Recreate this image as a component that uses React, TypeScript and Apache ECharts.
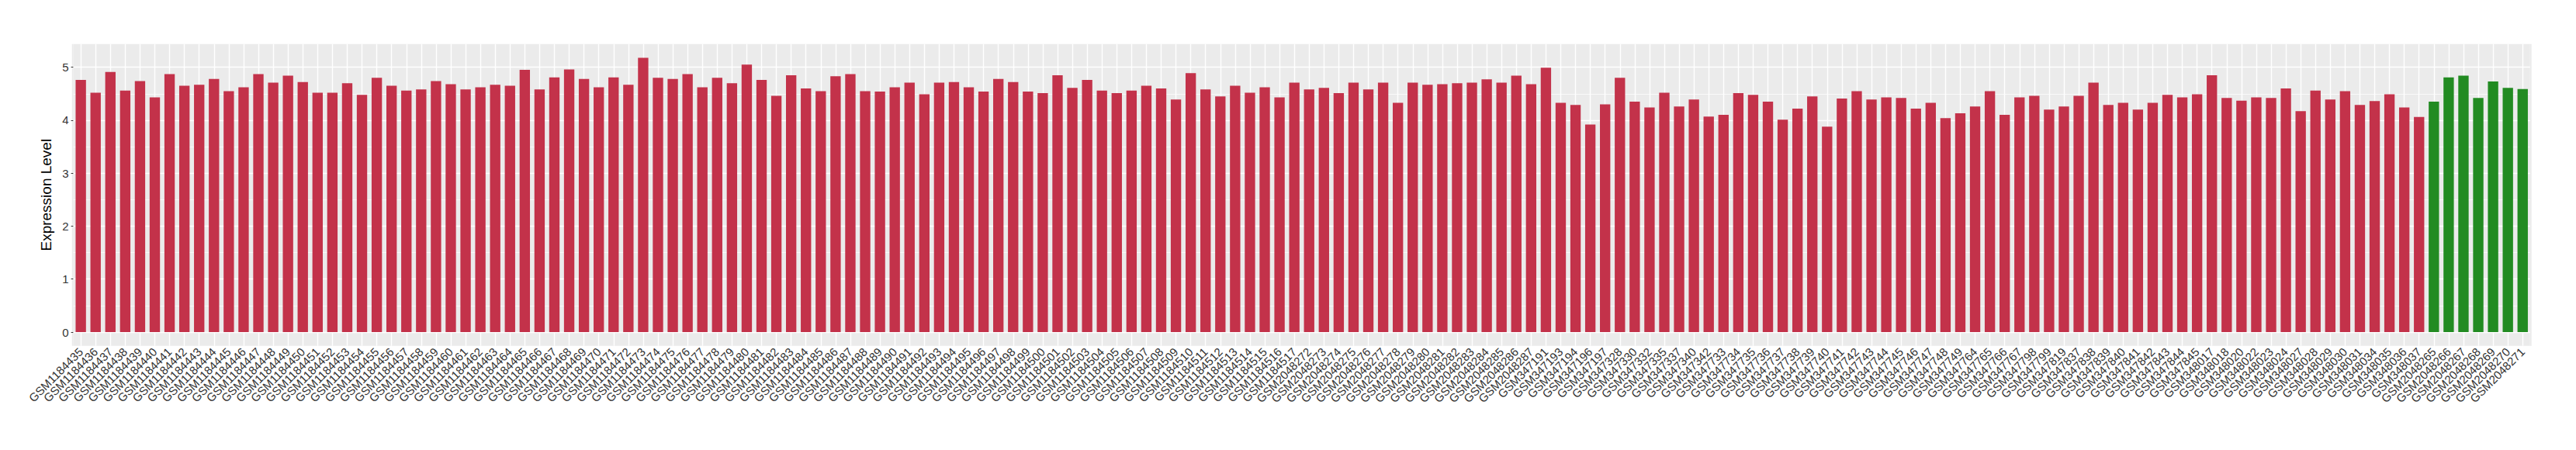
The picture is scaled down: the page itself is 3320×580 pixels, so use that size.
import React, { useEffect, useRef } from "react";
import * as echarts from "echarts";

const redCategories = [
  "GSM1184435", "GSM1184436", "GSM1184437", "GSM1184438", "GSM1184439", "GSM1184440", "GSM1184441", "GSM1184442",
  "GSM1184443", "GSM1184444", "GSM1184445", "GSM1184446", "GSM1184447", "GSM1184448", "GSM1184449", "GSM1184450",
  "GSM1184451", "GSM1184452", "GSM1184453", "GSM1184454", "GSM1184455", "GSM1184456", "GSM1184457", "GSM1184458",
  "GSM1184459", "GSM1184460", "GSM1184461", "GSM1184462", "GSM1184463", "GSM1184464", "GSM1184465", "GSM1184466",
  "GSM1184467", "GSM1184468", "GSM1184469", "GSM1184470", "GSM1184471", "GSM1184472", "GSM1184473", "GSM1184474",
  "GSM1184475", "GSM1184476", "GSM1184477", "GSM1184478", "GSM1184479", "GSM1184480", "GSM1184481", "GSM1184482",
  "GSM1184483", "GSM1184484", "GSM1184485", "GSM1184486", "GSM1184487", "GSM1184488", "GSM1184489", "GSM1184490",
  "GSM1184491", "GSM1184492", "GSM1184493", "GSM1184494", "GSM1184495", "GSM1184496", "GSM1184497", "GSM1184498",
  "GSM1184499", "GSM1184500", "GSM1184501", "GSM1184502", "GSM1184503", "GSM1184504", "GSM1184505", "GSM1184506",
  "GSM1184507", "GSM1184508", "GSM1184509", "GSM1184510", "GSM1184511", "GSM1184512", "GSM1184513", "GSM1184514",
  "GSM1184515", "GSM1184516", "GSM1184517",
  "GSM2048272", "GSM2048273", "GSM2048274", "GSM2048275", "GSM2048276", "GSM2048277", "GSM2048278", "GSM2048279",
  "GSM2048280", "GSM2048281", "GSM2048282", "GSM2048283", "GSM2048284", "GSM2048285", "GSM2048286", "GSM2048287",
  "GSM347191", "GSM347193", "GSM347194", "GSM347196", "GSM347197",
  "GSM347328", "GSM347330", "GSM347332", "GSM347335", "GSM347337", "GSM347340", "GSM347342",
  "GSM347733", "GSM347734", "GSM347735", "GSM347736", "GSM347737", "GSM347738", "GSM347739", "GSM347740",
  "GSM347741", "GSM347742", "GSM347743", "GSM347744", "GSM347745", "GSM347746", "GSM347747", "GSM347748",
  "GSM347749",
  "GSM347764", "GSM347765", "GSM347766", "GSM347767", "GSM347798", "GSM347799", "GSM347819",
  "GSM347837", "GSM347838", "GSM347839", "GSM347840", "GSM347841", "GSM347842", "GSM347843", "GSM347844",
  "GSM347845",
  "GSM348017", "GSM348018", "GSM348020", "GSM348022", "GSM348023", "GSM348024", "GSM348027", "GSM348028",
  "GSM348029", "GSM348030", "GSM348031", "GSM348034", "GSM348035", "GSM348036", "GSM348037",
];

const redValues = [
  4.76, 4.52, 4.91, 4.56, 4.74, 4.43, 4.87, 4.65, 4.67, 4.78, 4.55, 4.62, 4.87, 4.71, 4.84, 4.72,
  4.52, 4.52, 4.70, 4.48, 4.80, 4.65, 4.56, 4.58,
  4.74, 4.68, 4.58, 4.62, 4.67, 4.65, 4.95, 4.58, 4.81, 4.96, 4.78, 4.62, 4.81, 4.67, 5.18, 4.80,
  4.78, 4.87, 4.62, 4.80, 4.70, 5.05, 4.76, 4.46, 4.85, 4.60, 4.55, 4.83, 4.87,
  4.55, 4.54, 4.62, 4.71, 4.49, 4.71, 4.72, 4.62, 4.54, 4.78, 4.72, 4.54, 4.51, 4.85, 4.61, 4.76,
  4.56, 4.51, 4.56, 4.65, 4.60, 4.39, 4.89, 4.58, 4.45, 4.65, 4.52, 4.62, 4.43, 4.71,
  4.58, 4.61, 4.51, 4.71, 4.58, 4.71, 4.33, 4.71, 4.67, 4.68, 4.70, 4.71, 4.77, 4.71, 4.84, 4.68,
  4.99, 4.33, 4.29, 3.92, 4.30,
  4.80, 4.35, 4.24, 4.52, 4.26, 4.39, 4.07,
  4.10, 4.51, 4.48, 4.35, 4.01, 4.22, 4.45, 3.88, 4.41, 4.55, 4.39, 4.43, 4.42, 4.22, 4.33, 4.04,
  4.13,
  4.26, 4.55, 4.10, 4.43, 4.46, 4.20, 4.26,
  4.46, 4.71, 4.29, 4.33, 4.20, 4.33, 4.48, 4.43, 4.49,
  4.85, 4.42, 4.37, 4.43, 4.42, 4.60, 4.17, 4.56, 4.39, 4.55, 4.29, 4.36, 4.49, 4.24, 4.06,
];

const greenCategories = [
  "GSM2048265", "GSM2048266", "GSM2048267", "GSM2048268", "GSM2048269", "GSM2048270", "GSM2048271",
];
const greenValues = [4.35, 4.81, 4.84, 4.42, 4.73, 4.61, 4.59];

const yTickValues = [0, 1, 2, 3, 4, 5];
const yMinorValues = [0.5, 1.5, 2.5, 3.5, 4.5];

const FONT = "'Liberation Sans', Arial, Helvetica, sans-serif";

export default function App() {
  const ref = useRef<HTMLDivElement>(null);

  useEffect(() => {
    document.body.style.margin = "0";
    const chart = echarts.init(ref.current as HTMLDivElement, null, { renderer: "svg" });
    const categories = [...redCategories, ...greenCategories];
    const dataMax = Math.max(...redValues, ...greenValues);
    const yMax = dataMax * 1.05;
    const yMin = -dataMax * 0.05;

    const gridLeft = 94.6;
    const gridRight = 59.2;
    const gridTop = 56.7;
    const gridBottom = 134.3;

    const gridLineData: any[] = [
      ...categories.map((c) => ({ xAxis: c, lineStyle: { color: "#FFFFFF", width: 1.4, type: "solid" } })),
      ...yTickValues.map((v) => ({ yAxis: v, lineStyle: { color: "#FFFFFF", width: 1.4, type: "solid" } })),
      ...yMinorValues.map((v) => ({ yAxis: v, lineStyle: { color: "#FFFFFF", width: 0.7, type: "solid" } })),
    ];

    const option: any = {
      animation: false,
      backgroundColor: "#FFFFFF",
      textStyle: { fontFamily: FONT },
      grid: {
        left: gridLeft,
        right: gridRight,
        top: gridTop,
        bottom: gridBottom,
        show: true,
        backgroundColor: "#EBEBEB",
        borderWidth: 0,
        containLabel: false,
      },
      xAxis: {
        type: "category",
        data: categories,
        boundaryGap: true,
        axisLine: { show: false },
        axisTick: { show: true, alignWithLabel: true, length: 3, lineStyle: { color: "#333333", width: 1 } },
        axisLabel: {
          interval: 0,
          rotate: 45,
          fontSize: 15,
          color: "#333333",
          fontFamily: FONT,
          margin: 5,
          padding: [15, 0, 0, 0],
        },
        splitLine: { show: false },
      },
      yAxis: {
        type: "value",
        min: yMin,
        max: yMax,
        axisLine: { show: false },
        axisTick: { show: true, length: 3, customValues: yTickValues, lineStyle: { color: "#333333", width: 1 } },
        axisLabel: { customValues: yTickValues, fontSize: 15, color: "#333333", fontFamily: FONT, margin: 6 },
        splitLine: { show: false },
        minorSplitLine: { show: false },
        name: "Expression Level",
        nameLocation: "middle",
        nameGap: 20,
        nameTextStyle: { fontSize: 19, color: "#000000", fontFamily: FONT },
      },
      graphic: [
        { type: "rect", shape: { x: gridLeft - 1.9, y: gridTop, width: 1.9, height: 580 - gridTop - gridBottom }, style: { fill: "#EBEBEB" }, silent: true },
        { type: "rect", shape: { x: 3320 - gridRight, y: gridTop, width: 1.9, height: 580 - gridTop - gridBottom }, style: { fill: "#EBEBEB" }, silent: true },
      ],
      series: [
        {
          type: "bar",
          name: "Tumor",
          data: [...redValues, ...greenCategories.map(() => "-")],
          barWidth: "70%",
          barGap: "-100%",
          itemStyle: { color: "#C3324A" },
          z: 2,
          markLine: {
            silent: true,
            z: 1,
            symbol: ["none", "none"],
            label: { show: false },
            emphasis: { disabled: true },
            animation: false,
            data: gridLineData,
          },
        },
        {
          type: "bar",
          name: "Normal",
          data: [...redCategories.map(() => "-"), ...greenValues],
          barWidth: "70%",
          barGap: "-100%",
          itemStyle: { color: "#228B22" },
          z: 2,
        },
      ],
    };

    chart.setOption(option);
    return () => {
      chart.dispose();
    };
  }, []);

  return <div ref={ref} style={{ width: 3320, height: 580 }} />;
}
